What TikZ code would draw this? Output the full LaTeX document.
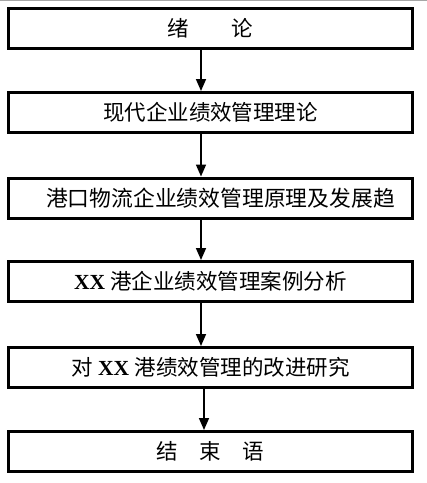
\documentclass[tikz,border=0pt]{standalone}
\usepackage{fontspec}
\setmainfont{Liberation Serif}
\newfontfamily\cjk{Noto Sans CJK SC}
\usetikzlibrary{arrows.meta}
\tikzset{
  stagebox/.style={draw=black, line width=3pt, minimum width=404pt, minimum height=40pt, inner sep=0pt, font=\fontsize{21.5}{24}\selectfont},
  flowarrow/.style={line width=1.6pt, -{Triangle[width=10pt,length=12pt]}}
}
\newcommand{\zh}[1]{{\cjk #1}}
\begin{document}
\begin{tikzpicture}[x=1pt,y=-1pt]
\useasboundingbox (0,0) rectangle (427,483);
\fill[white] (0,0) rectangle (427,483);
\draw[gray!70, line width=1pt] (0,0.5) -- (427,0.5);
\node[stagebox] (b1) at (210.5,28.5) {\zh{绪　　论}};
\node[stagebox] (b2) at (210.5,112.5) {\zh{现代企业绩效管理理论}};
\node[stagebox] (b3) at (210.5,198) {\hspace*{20pt}\fontsize{21.8}{24}\selectfont\zh{港口物流企业绩效管理原理及发展趋}};
\node[stagebox] (b4) at (210.5,281.5) {\textbf{XX} \zh{港企业绩效管理案例分析}};
\node[stagebox] (b5) at (210.5,367.5) {\zh{对} \textbf{XX} \zh{港绩效管理的改进研究}};
\node[stagebox] (b6) at (210.5,451.5) {\zh{结　束　语}};
\coordinate (ax) at (201,0);
\coordinate (ay) at (204,0);
\draw[flowarrow] (b1.south -| ax) -- (b2.north -| ax);
\draw[flowarrow] (b2.south -| ax) -- (b3.north -| ax);
\draw[flowarrow] (b3.south -| ax) -- (b4.north -| ax);
\draw[flowarrow] (b4.south -| ax) -- (b5.north -| ax);
\draw[flowarrow] (b5.south -| ay) -- (b6.north -| ay);
\end{tikzpicture}
\end{document}
